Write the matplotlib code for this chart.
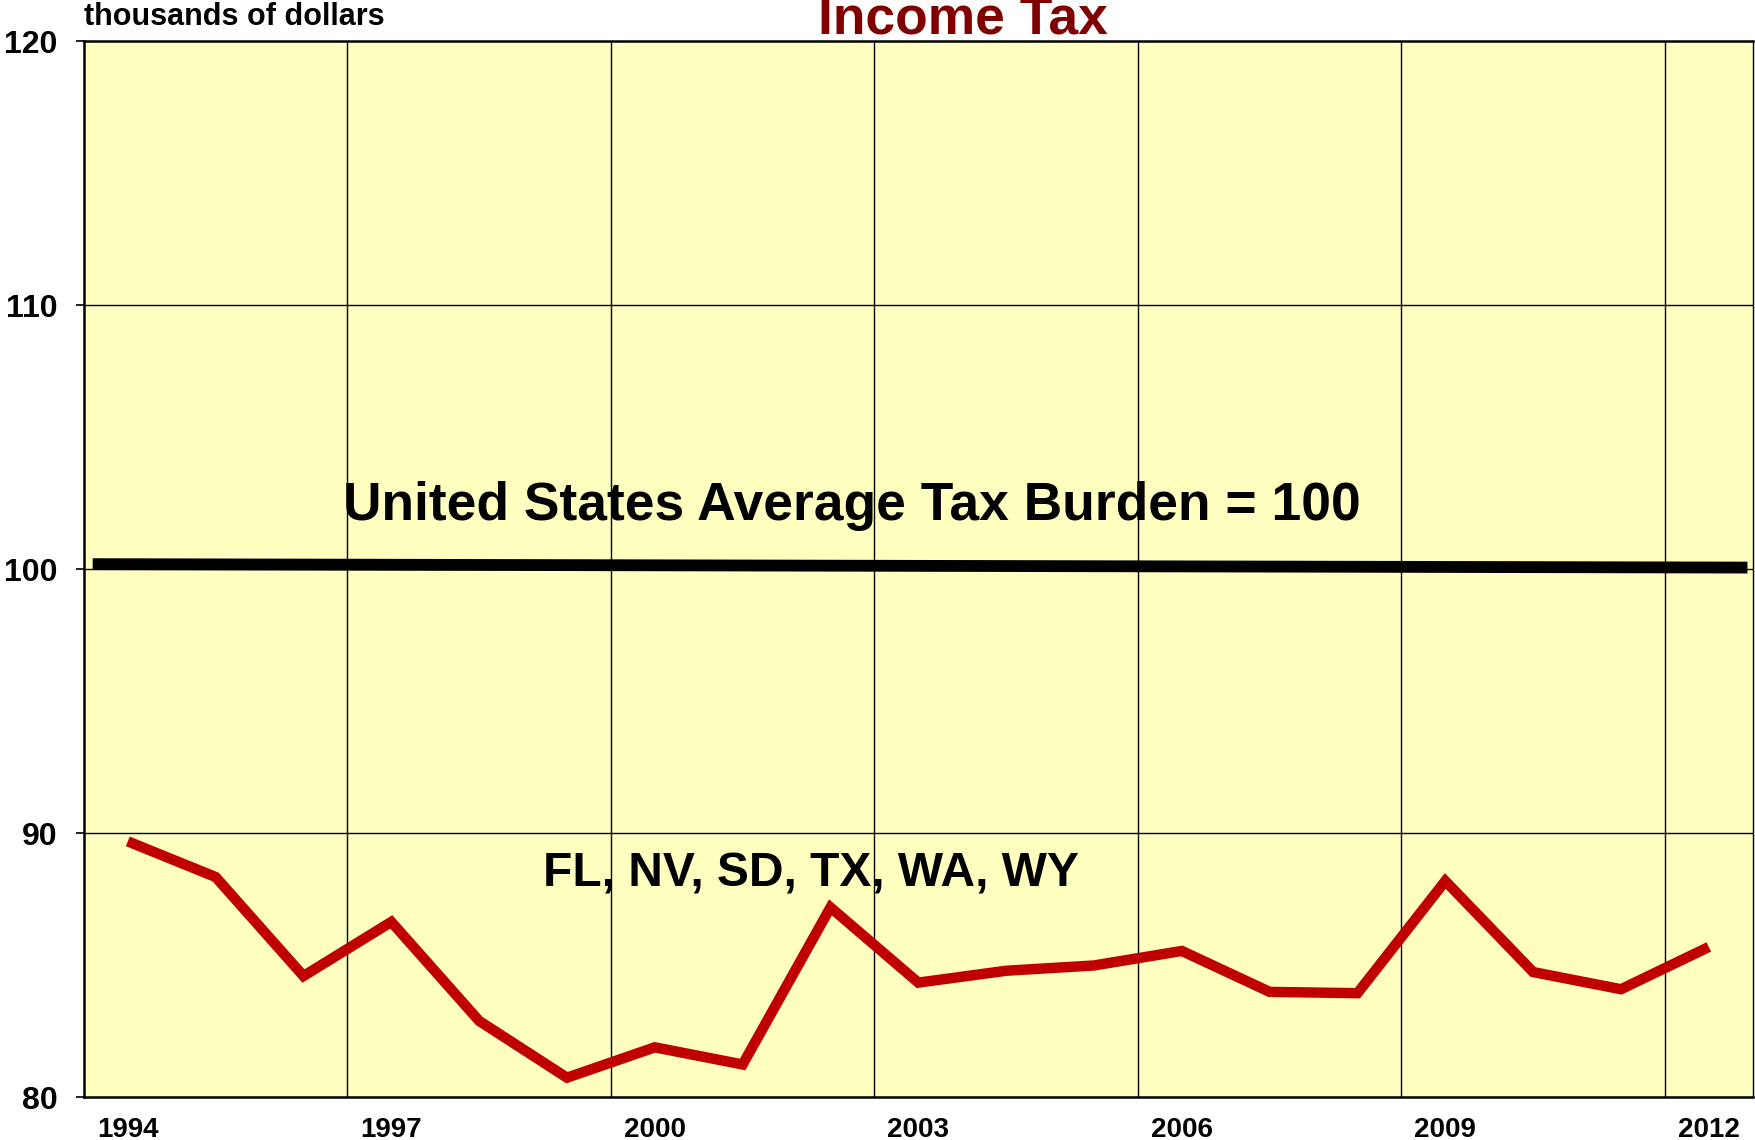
import matplotlib
matplotlib.use("Agg")
import matplotlib.pyplot as plt

plt.rcParams['font.family'] = ['Liberation Sans', 'DejaVu Sans']
plt.rcParams['font.weight'] = 'bold'

# data
years = list(range(1994, 2013))
income_tax = [89.7, 88.35, 84.6, 86.65, 82.9, 80.75, 81.9, 81.25, 87.2, 84.35,
              84.8, 85.0, 85.55, 84.0, 83.95, 88.2, 84.75, 84.1, 85.7]
avg_x = [1993.6, 2012.44]
avg_y = [100.2, 100.07]
x_labels = [1994, 1997, 2000, 2003, 2006, 2009, 2012]
y_ticks = [80, 90, 100, 110, 120]
grid_x = [1996.5, 1999.5, 2002.5, 2005.5, 2008.5, 2011.5]

fig = plt.figure(figsize=(17.55, 11.40), dpi=100)
ax = fig.add_axes([0.0478, 0.0373, 0.9509, 0.9264])
ax.set_facecolor('#FFFFC0')

# grid
for gx in grid_x:
    ax.axvline(gx, color='black', lw=1.0, zorder=1)
for gy in [90, 100, 110]:
    ax.axhline(gy, color='black', lw=1.0, zorder=1)

# lines
ax.plot(avg_x, avg_y, color='black', lw=8.5, solid_capstyle='butt', zorder=3)
ax.plot(years, income_tax, color='#C00000', lw=7.5, solid_joinstyle='miter',
        solid_capstyle='butt', zorder=4)

ax.text(1996.45, 101.86, 'United States Average Tax Burden = 100',
        fontsize=38.4, fontweight='bold', ha='left', va='baseline', zorder=5)
ax.text(1998.73, 88.0, 'FL, NV, SD, TX, WA, WY',
        fontsize=34.5, fontweight='bold', ha='left', va='baseline', zorder=5)

ax.set_xlim(1993.5, 2012.5)
ax.set_ylim(80, 120)
ax.set_yticks(y_ticks)
ax.set_yticklabels([str(v) for v in y_ticks], fontsize=23, fontweight='bold')
ax.set_xticks(x_labels)
ax.set_xticklabels([str(v) for v in x_labels], fontsize=20, fontweight='bold')
ax.tick_params(axis='x', length=0, pad=14)
ax.tick_params(axis='y', length=6, width=1.2, pad=13)

for s in ax.spines.values():
    s.set_linewidth(1.8)
ax.spines['right'].set_linewidth(1.0)

fig.text(0.5485, 0.9706, 'Income Tax', fontsize=38.4, fontweight='bold',
         color='#800000', ha='center', va='baseline')
fig.text(0.0478, 0.9784, 'thousands of dollars', fontsize=22,
         fontweight='bold', ha='left', va='baseline')

fig.savefig('out.png', dpi=100)
